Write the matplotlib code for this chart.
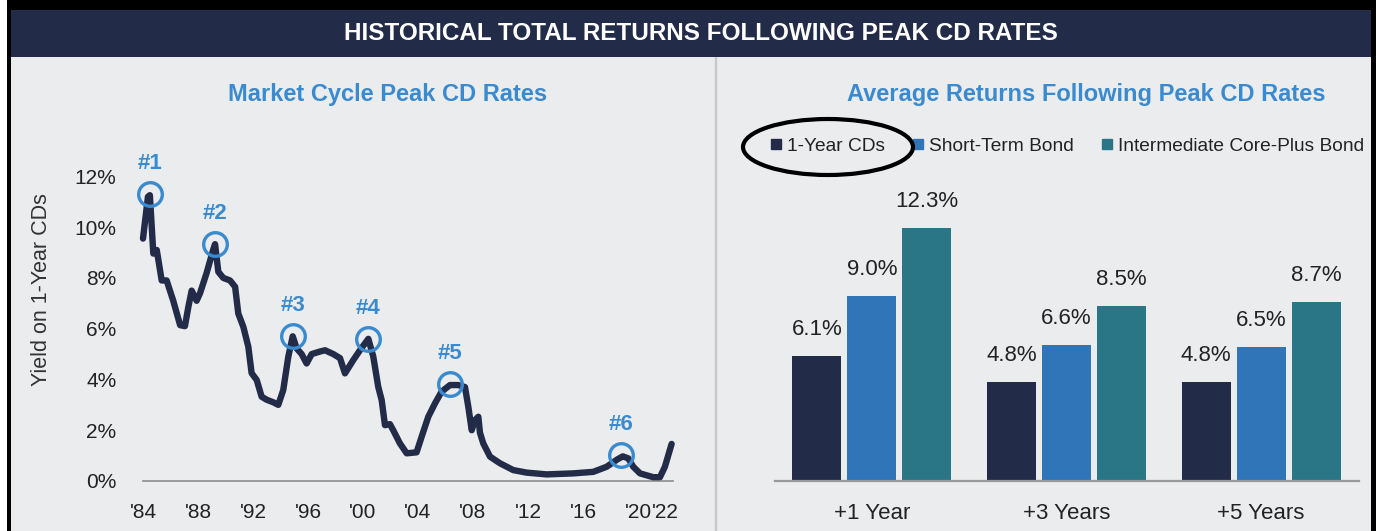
import matplotlib
matplotlib.use("Agg")
import matplotlib.pyplot as plt
from matplotlib.patches import Rectangle, Ellipse
from matplotlib.lines import Line2D

plt.rcParams['font.family'] = ['Liberation Sans', 'DejaVu Sans']

# --- data ---
cd_years = [1984.0, 1984.36, 1984.5, 1984.75, 1985.0, 1985.36, 1985.72, 1986.2, 1986.7, 1987.05,
            1987.3, 1987.54, 1987.9, 1988.15, 1988.63, 1989.1, 1989.24, 1989.48, 1989.84, 1990.33,
            1990.7, 1990.93, 1991.3, 1991.66, 1991.9, 1992.27, 1992.63, 1993.0, 1993.48, 1993.84,
            1994.2, 1994.57, 1994.89, 1995.18, 1995.54, 1995.9, 1996.27, 1996.87, 1997.24, 1997.84,
            1998.33, 1998.69, 1999.29, 1999.78, 2000.39, 2000.75, 2001.11, 2001.36, 2001.6, 2001.96,
            2002.2, 2002.69, 2003.18, 2003.9, 2004.27, 2004.75, 2005.24, 2005.72, 2006.33, 2006.93,
            2007.42, 2007.66, 2007.91, 2008.15, 2008.39, 2008.51, 2008.75, 2009.24, 2009.96, 2010.93,
            2011.9, 2013.36, 2015.29, 2016.75, 2017.72, 2018.5, 2018.9, 2019.3, 2019.66, 2020.15,
            2021.11, 2021.6, 2021.96, 2022.45]
cd_yield = [9.55, 11.2, 11.26, 8.96, 9.1, 7.9, 7.9, 7.1, 6.14, 6.1,
            6.86, 7.5, 7.1, 7.4, 8.2, 9.1, 9.33, 8.24, 8.0, 7.9,
            7.65, 6.6, 6.07, 5.29, 4.25, 3.98, 3.32, 3.2, 3.1, 3.0,
            3.58, 4.9, 5.7, 5.22, 5.0, 4.63, 5.0, 5.1, 5.15, 5.0,
            4.84, 4.24, 4.76, 5.15, 5.6, 4.9, 3.71, 3.19, 2.2, 2.24,
            2.0, 1.48, 1.09, 1.13, 1.75, 2.53, 3.06, 3.52, 3.78, 3.78,
            3.7, 2.93, 2.0, 2.4, 2.53, 1.9, 1.48, 0.96, 0.7, 0.43,
            0.33, 0.26, 0.3, 0.36, 0.56, 0.85, 0.97, 0.89, 0.56, 0.3,
            0.15, 0.15, 0.56, 1.46]

peak_years = [1984.5, 1989.24, 1994.89, 2000.39, 2006.33, 2018.8]
peak_vals = [11.3, 9.33, 5.7, 5.58, 3.82, 1.02]
peak_labels = ["#1", "#2", "#3", "#4", "#5", "#6"]

year_ticks = [1984, 1988, 1992, 1996, 2000, 2004, 2008, 2012, 2016, 2020, 2022]
year_labels = ["'84", "'88", "'92", "'96", "'00", "'04", "'08", "'12", "'16", "'20", "'22"]
yield_ticks = [0, 2, 4, 6, 8, 10, 12]

periods = ["+1 Year", "+3 Years", "+5 Years"]
series_names = ["1-Year CDs", "Short-Term Bond", "Intermediate Core-Plus Bond"]
ret_cds = [6.1, 4.8, 4.8]
ret_short = [9.0, 6.6, 6.5]
ret_core = [12.3, 8.5, 8.7]

# --- style ---
NAVY = "#222b48"
BLUE = "#2f75b8"
TEAL = "#2a7687"
TITLE_BLUE = "#3a8ad0"
BG = "#ebecee"
TXT = "#222222"

W, H = 1380, 531
fig = plt.figure(figsize=(W / 100, H / 100), dpi=100)
fig.patch.set_facecolor("white")


def fx(x):
    return x / W


def fy(y):
    return 1 - y / H


def box(x0, y0, x1, y1, color, z):
    fig.patches.append(Rectangle((fx(x0), fy(y1)), fx(x1 - x0), (y1 - y0) / H,
                                 transform=fig.transFigure, facecolor=color,
                                 edgecolor="none", zorder=z))


box(7, 0, 1376, 540, "black", -3)
box(11, 10, 1371, 540, BG, -2)
box(11, 10, 1371, 57, NAVY, -1)
fig.lines.append(Line2D([fx(716), fx(716)], [fy(57), fy(540)], transform=fig.transFigure,
                        color="#c6c7c9", lw=1.6, zorder=-1))

fig.text(fx(701), fy(33), "HISTORICAL TOTAL RETURNS FOLLOWING PEAK CD RATES", color="white",
         fontsize=17.5, fontweight="bold", ha="center", va="center", zorder=5)
fig.text(fx(388), fy(94), "Market Cycle Peak CD Rates", color=TITLE_BLUE,
         fontsize=17, fontweight="bold", ha="center", va="center")
fig.text(fx(1086), fy(94), "Average Returns Following Peak CD Rates", color=TITLE_BLUE,
         fontsize=17, fontweight="bold", ha="center", va="center")

# --- left: line chart ---
ax1 = fig.add_axes([fx(143), fy(481), (673 - 143) / W, 330 / H])
ax1.set_zorder(5)
ax1.set_facecolor("none")
ax1.plot(cd_years, cd_yield, color=NAVY, lw=4.6, solid_joinstyle="round", solid_capstyle="round",
         clip_on=False, zorder=3)
ax1.plot(peak_years, peak_vals, "o", ms=17, mfc="none", mec=TITLE_BLUE, mew=2.4,
         clip_on=False, zorder=4)
for px, pv, pl in zip(peak_years, peak_vals, peak_labels):
    ax1.annotate(pl, (px, pv), xytext=(0, 22), textcoords="offset points", ha="center",
                 va="center", color=TITLE_BLUE, fontsize=16, fontweight="bold",
                 annotation_clip=False)
ax1.set_xlim(1984, 2022.55)
ax1.set_ylim(0, 13)
ax1.set_xticks(year_ticks)
ax1.set_xticklabels(year_labels)
ax1.set_yticks(yield_ticks)
ax1.set_yticklabels([f"{v}%" for v in yield_ticks])
ax1.tick_params(axis="both", length=0, labelsize=15, colors=TXT)
ax1.tick_params(axis="y", pad=19)
ax1.tick_params(axis="x", pad=16)
for s in ["top", "right", "left"]:
    ax1.spines[s].set_visible(False)
ax1.spines["bottom"].set_color("#8c8c8c")
ax1.spines["bottom"].set_linewidth(1.2)
fig.text(fx(42), fy(290), "Yield on 1-Year CDs", rotation=90, fontsize=15.5, color="#333333",
         ha="center", va="center")

# --- right: grouped bars ---
ax2 = fig.add_axes([fx(774.5), fy(481), (1358.5 - 774.5) / W, 288 / H])
ax2.set_zorder(5)
ax2.set_facecolor("none")
xs = range(len(periods))
bw = 0.252
step = 0.282
for i, (vals, col, name) in enumerate(zip([ret_cds, ret_short, ret_core], [NAVY, BLUE, TEAL],
                                          series_names)):
    pos = [x + (i - 1) * step for x in xs]
    bars = ax2.bar(pos, vals, width=bw, color=col, label=name, zorder=2)
    for b, v in zip(bars, vals):
        ax2.annotate(f"{v:.1f}%", (b.get_x() + b.get_width() / 2, v), xytext=(0, 19),
                     textcoords="offset points", ha="center", va="center", fontsize=16,
                     color=TXT, annotation_clip=False)
ax2.set_xlim(-0.5, 2.5)
ax2.set_ylim(0, 14)
ax2.set_xticks(list(xs))
ax2.set_xticklabels(periods)
ax2.set_yticks([])
ax2.tick_params(axis="x", length=0, labelsize=16, colors=TXT, pad=16)
for s in ["top", "right", "left"]:
    ax2.spines[s].set_visible(False)
ax2.spines["bottom"].set_color("#9a9a9a")
ax2.spines["bottom"].set_linewidth(1.6)

handles = [Line2D([], [], marker="s", ls="none", ms=6.5, color=c) for c in [NAVY, BLUE, TEAL]]
fig.legend(handles, series_names, loc="center", bbox_to_anchor=(fx(1067), fy(146)), ncol=3,
           frameon=False, fontsize=13.8, handlelength=0.6, handletextpad=0.3, columnspacing=1.4,
           labelcolor=TXT)

fig.patches.append(Ellipse((fx(828), fy(147)), fx(170), 56 / H, transform=fig.transFigure,
                           facecolor="none", edgecolor="black", lw=3, zorder=6))

fig.savefig("out.png", dpi=100)
